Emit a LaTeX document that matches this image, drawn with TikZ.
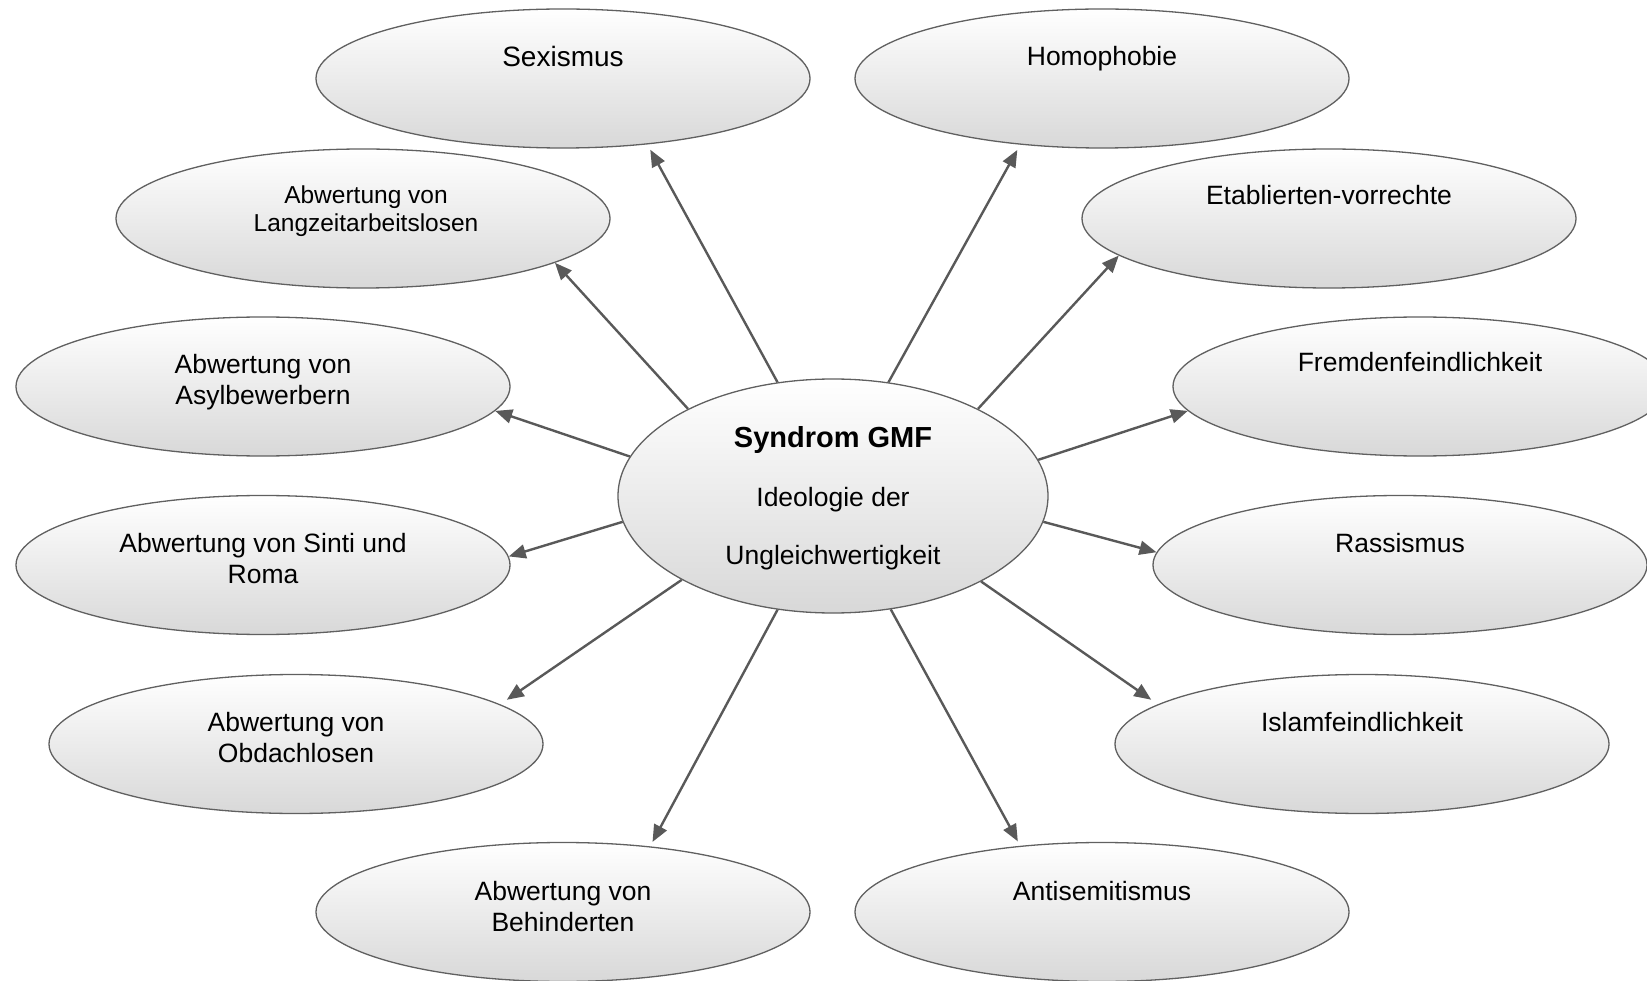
\documentclass[tikz,border=0pt]{standalone}
\usepackage{fontspec}
\setmainfont{Liberation Sans}
\usetikzlibrary{arrows.meta,shapes.geometric}
\definecolor{ovalborder}{HTML}{606060}
\definecolor{ovalbottom}{HTML}{D8D8D8}
\definecolor{arrowgray}{HTML}{595959}
\newcommand{\mylines}[1]{\begin{tabular}[t]{@{}c@{}}#1\end{tabular}}
\tikzset{
  oval/.style={ellipse, draw=ovalborder, line width=1.3pt, top color=white, bottom color=ovalbottom,
    minimum width=494pt, minimum height=139pt, inner sep=0pt},
  bigoval/.style={oval, minimum width=430pt, minimum height=234pt},
  lbl/.style={anchor=base, inner sep=0pt, text=black, font=\fontsize{26.5}{31.5}\selectfont},
  arr/.style={draw=arrowgray, line width=2.4pt, -{Triangle[length=17pt,width=14pt]}}
}
\begin{document}
\begin{tikzpicture}[x=1pt,y=-1pt]
\useasboundingbox (0,0) rectangle (1647,981);
% outer ellipses
\node[oval] (sex) at (563,78.5) {};
\node[oval] (hom) at (1102,78.5) {};
\node[oval] (lzt) at (363,218.5) {};
\node[oval] (eta) at (1329,218.5) {};
\node[oval] (asy) at (263,386.5) {};
\node[oval] (fre) at (1420,386.5) {};
\node[oval] (sin) at (263,565) {};
\node[oval] (ras) at (1400,565) {};
\node[oval] (obd) at (296,744) {};
\node[oval] (isl) at (1362,744) {};
\node[oval] (beh) at (563,912) {};
\node[oval] (ant) at (1102,912) {};
\node[bigoval] (c) at (833,496) {};
% labels
\node[lbl, font=\fontsize{28}{33}\selectfont] (sex-t) at (563,66.5) {Sexismus};
\node[lbl] (hom-t) at (1102,66) {Homophobie};
\node[lbl, font=\fontsize{24.5}{27.7}\selectfont] (lzt-t) at (366,204) {\mylines{Abwertung von\\Langzeitarbeitslosen}};
\node[lbl] (eta-t) at (1329,205) {Etablierten-vorrechte};
\node[lbl] (asy-t) at (263,373.5) {\mylines{Abwertung von\\Asylbewerbern}};
\node[lbl] (fre-t) at (1420,372) {Fremdenfeindlichkeit};
\node[lbl] (sin-t) at (263,552) {\mylines{Abwertung von Sinti und\\Roma}};
\node[lbl] (ras-t) at (1400,552) {Rassismus};
\node[lbl] (obd-t) at (296,731) {\mylines{Abwertung von\\Obdachlosen}};
\node[lbl] (isl-t) at (1362,731) {Islamfeindlichkeit};
\node[lbl] (beh-t) at (563,900) {\mylines{Abwertung von\\Behinderten}};
\node[lbl] (ant-t) at (1102,900) {Antisemitismus};
\node[lbl, font=\fontsize{26.5}{58.5}\selectfont] (c-t) at (833,448)
  {\mylines{\fontsize{29}{58.5}\selectfont\bfseries Syndrom GMF\\Ideologie der\\Ungleichwertigkeit}};
% arrows
\draw[arr, shorten >=6pt] (c.116) -- (sex.-38.5);
\draw[arr, shorten >=6pt] (c.64) -- (hom.-141.5);
\draw[arr] (c.149) -- (lzt.-13.5);
\draw[arr] (c.31) -- (eta.-170);
\draw[arr] (c.169.3) -- (asy.-6.1);
\draw[arr] (c.10.8) -- (fre.-174.6);
\draw[arr] (c.187.9) -- (sin.2.5);
\draw[arr] (c.-7.4) -- (ras.177.2);
\draw[arr, shorten >=8pt] (c.209.1) -- (obd.11.1);
\draw[arr, shorten >=8pt] (c.-30.4) -- (isl.169.2);
\draw[arr, shorten >=5pt] (c.244.2) -- (beh.37.5);
\draw[arr, shorten >=5pt] (c.-63.8) -- (ant.141.6);
\end{tikzpicture}
\end{document}
